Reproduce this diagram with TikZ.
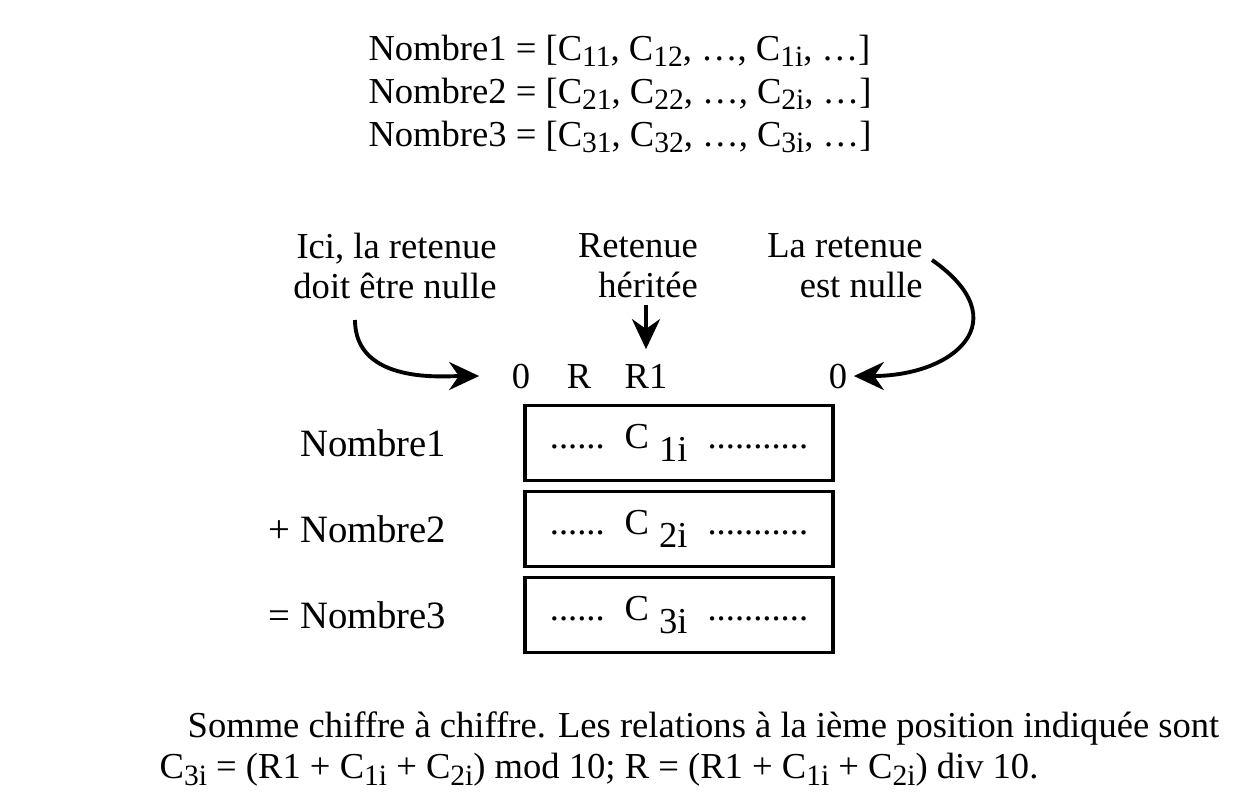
\documentclass[tikz,border=0pt]{standalone}
\usepackage{fontspec}
\setmainfont{Liberation Serif}
\usetikzlibrary{arrows.meta, positioning}

\newcommand{\ind}[1]{\raisebox{-0.8ex}{#1}}
\newcommand{\petit}[1]{\raisebox{-0.4ex}{\fontsize{8.4}{9}\selectfont #1}}

\begin{document}
\begin{tikzpicture}[x=0.01cm, y=0.01cm, font=\fontsize{10.4}{11.4}\selectfont,
  box/.style = {draw, line width=1.1pt, minimum width=3.08cm, minimum height=0.75cm, inner sep=0pt},
  lbl/.style = {inner sep=0pt, align=right},
  chiffre/.style = {inner sep=0pt},
  arr/.style = {-{Stealth[length=3mm, width=2.8mm]}, line width=1.1pt}]
\useasboundingbox (0,0) rectangle (1243,-794);
% les trois nombres
\node[inner sep=0pt, align=left, font=\fontsize{10.4}{12.2}\selectfont] (liste) at (620,-94)
  {Nombre1 = [C\petit{11}, C\petit{12}, \dots, C\petit{1i}, \dots]\\
   Nombre2 = [C\petit{21}, C\petit{22}, \dots, C\petit{2i}, \dots]\\
   Nombre3 = [C\petit{31}, C\petit{32}, \dots, C\petit{3i}, \dots]};
% retenues
\node[lbl] (l1) at (395,-266) {Ici, la retenue\\doit être nulle};
\node[lbl] (l2) at (638,-266) {Retenue\\héritée};
\node[lbl] (l3) at (845,-266) {La retenue\\est nulle};
\node[chiffre, anchor=base] (z1) at (521,-388) {0};
\node[chiffre, anchor=base] (r) at (579,-388) {R};
\node[chiffre, anchor=base] (r1) at (646,-388) {R1};
\node[chiffre, anchor=base] (z2) at (838,-388) {0};
\coordinate (s1) at (355,-320);
\coordinate (s2) at (646,-305);
\coordinate (s3) at (932,-260);
\draw[arr, shorten >=3.2mm] (s1) to[out=-90, in=180] (z1.west);
\draw[arr, shorten >=1.4mm] (s2) -- (r1.north);
\draw[arr, shorten >=0.6mm] (s3) to[out=-35, in=0, looseness=1.9] (z2.east);
% les cases
\node[box] (b1) at (679,-443) {......\hspace{2mm}C\hspace{1mm}\ind{1i}\hspace{2mm}...........};
\node[box] (b2) at (679,-529) {......\hspace{2mm}C\hspace{1mm}\ind{2i}\hspace{2mm}...........};
\node[box] (b3) at (679,-615) {......\hspace{2mm}C\hspace{1mm}\ind{3i}\hspace{2mm}...........};
\node[chiffre, font=\fontsize{11}{12}\selectfont, left=0.76cm of b1] (n1) {Nombre1};
\node[chiffre, font=\fontsize{11}{12}\selectfont, left=0.76cm of b2] (n2) {+ Nombre2};
\node[chiffre, font=\fontsize{11}{12}\selectfont, left=0.76cm of b3] (n3) {= Nombre3};
% legende
\node[chiffre, anchor=west] (c1) at (187,-729)
  {Somme chiffre à chiffre. Les relations à la ième position indiquée sont};
\node[chiffre, anchor=west] (c2) at (159,-770)
  {C\petit{3i} = (R1 + C\petit{1i} + C\petit{2i}) mod 10; R = (R1 + C\petit{1i} + C\petit{2i}) div 10.};
\end{tikzpicture}
\end{document}
